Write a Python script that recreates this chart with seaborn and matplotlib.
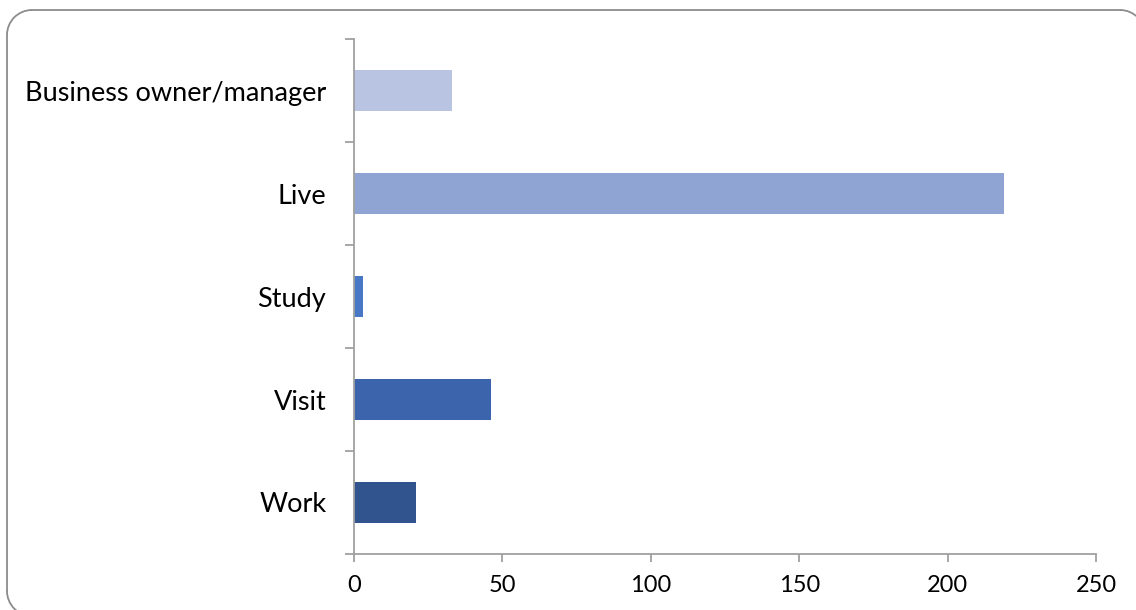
import matplotlib
matplotlib.use("Agg")
import matplotlib.pyplot as plt
import seaborn as sns
import pandas as pd
from matplotlib.patches import Arc
from matplotlib.lines import Line2D
from matplotlib.transforms import IdentityTransform

categories = ["Business owner/manager", "Live", "Study", "Visit", "Work"]
values = [33, 219, 3, 46, 21]
colors = ["#B9C3E2", "#8FA4D3", "#4877C6", "#3C64AC", "#31548F"]
xticks = [0, 50, 100, 150, 200, 250]

sns.set_theme(style="white")
plt.rcParams['font.family'] = ['Lato', 'DejaVu Sans']

df = pd.DataFrame({"category": categories, "value": values})

W, H = 1136, 610
fig = plt.figure(figsize=(W / 100, H / 100), dpi=100)
ax = fig.add_axes([354 / W, 1 - 554 / H, (1096 - 354) / W, (554 - 39) / H])

sns.barplot(data=df, y="category", x="value", hue="category", palette=colors,
            order=categories, hue_order=categories, legend=False, width=0.4,
            saturation=1, linewidth=0, ax=ax)

ax.set_xlim(0, 250)
ax.set_ylim(len(categories) - 0.5, -0.5)
ax.set_xticks(xticks)
ax.set_xticklabels([str(t) for t in xticks])
ax.set_yticks([i - 0.5 for i in range(len(categories) + 1)])
ax.set_yticklabels([])
ax.set_yticks(range(len(categories)), minor=True)
ax.set_yticklabels(categories, minor=True)
ax.set_xlabel("")
ax.set_ylabel("")

for s in ["top", "right"]:
    ax.spines[s].set_visible(False)
for s in ["left", "bottom"]:
    ax.spines[s].set_color("#A0A0A0")
    ax.spines[s].set_linewidth(1.3)

ax.tick_params(axis="x", which="major", direction="out", length=6, width=1.3,
               color="#A0A0A0", labelsize=17, pad=9, labelcolor="black", bottom=True)
ax.tick_params(axis="y", which="major", direction="out", length=6.5, width=1.3,
               color="#A0A0A0", left=True)
ax.tick_params(axis="y", which="minor", length=0, labelsize=19.5, pad=20,
               labelcolor="black", left=True)
ax.grid(False)

# rounded chart-area border drawn in pixel coordinates (origin bottom-left)
r = 25
left, top, right, bottom = 7, 10, 1145, 616
bc = "#8C8C8C"
lw = 1.3
tr = IdentityTransform()
pieces = [
    Line2D([left + r, right - r], [H - top, H - top], transform=tr, color=bc, lw=lw),
    Line2D([left, left], [H - top - r, H - bottom + r], transform=tr, color=bc, lw=lw),
    Arc((left + r, H - top - r), 2 * r, 2 * r, theta1=90, theta2=180, transform=tr, color=bc, lw=lw),
    Arc((right - r, H - top - r), 2 * r, 2 * r, theta1=0, theta2=90, transform=tr, color=bc, lw=lw),
    Arc((left + r, H - bottom + r), 2 * r, 2 * r, theta1=180, theta2=270, transform=tr, color=bc, lw=lw),
]
for p in pieces:
    fig.add_artist(p)

fig.savefig("out.png", dpi=100)
